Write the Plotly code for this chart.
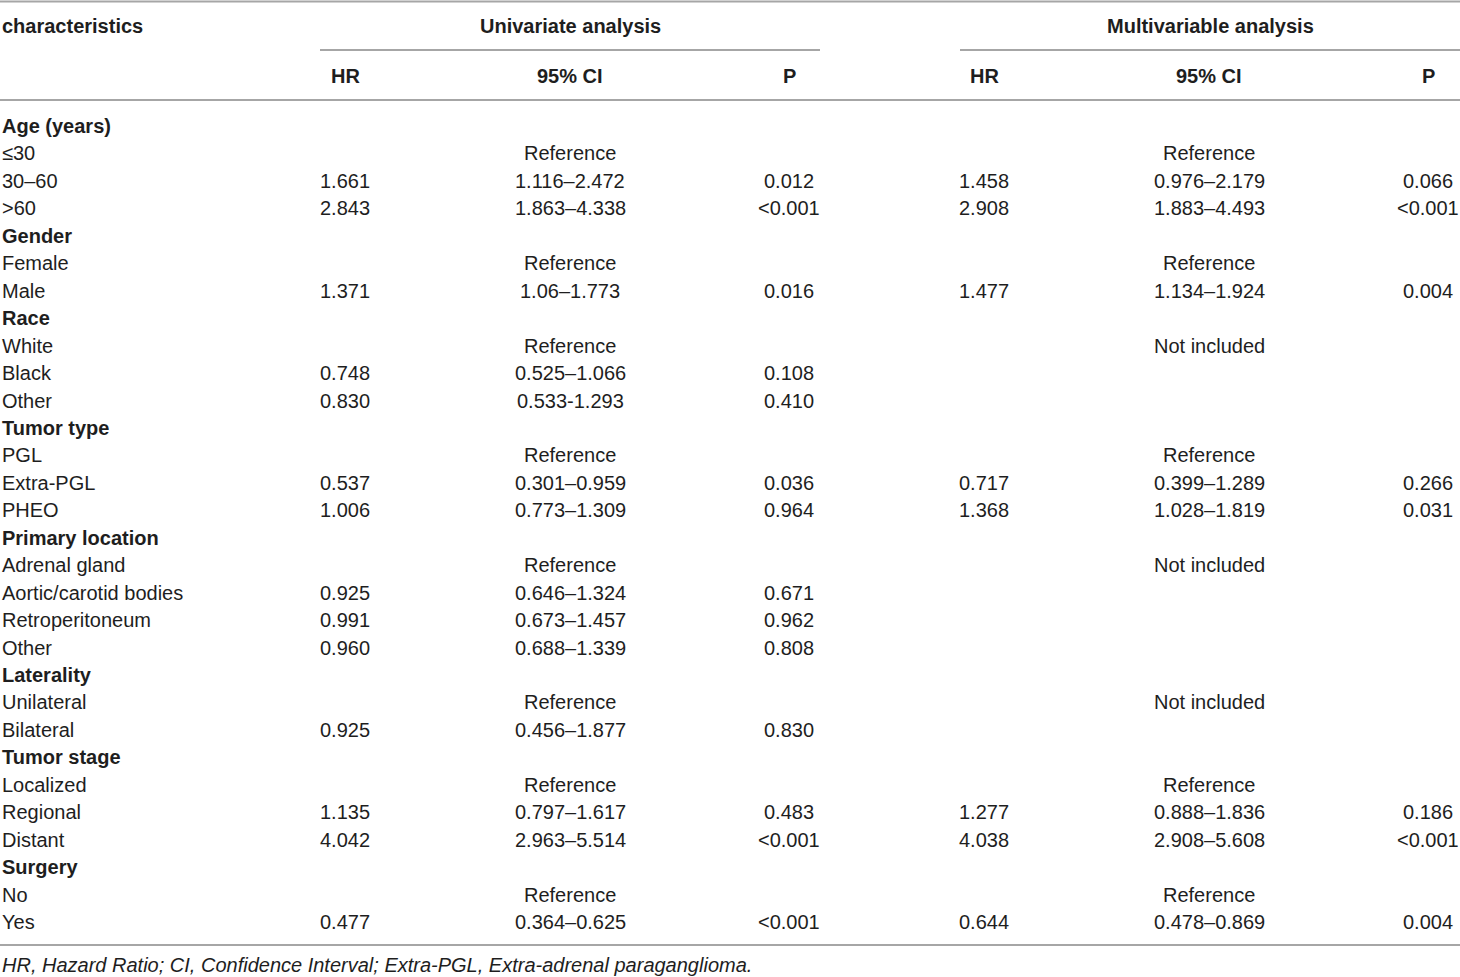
import plotly.graph_objects as go

# table content
labels = [
    "Age (years)", "≤30", "30–60", ">60",
    "Gender", "Female", "Male",
    "Race", "White", "Black", "Other",
    "Tumor type", "PGL", "Extra-PGL", "PHEO",
    "Primary location", "Adrenal gland", "Aortic/carotid bodies", "Retroperitoneum", "Other",
    "Laterality", "Unilateral", "Bilateral",
    "Tumor stage", "Localized", "Regional", "Distant",
    "Surgery", "No", "Yes",
]
group_rows = {"Age (years)", "Gender", "Race", "Tumor type", "Primary location",
              "Laterality", "Tumor stage", "Surgery"}

uni_hr = ["", "", "1.661", "2.843", "", "", "1.371", "", "", "0.748", "0.830",
          "", "", "0.537", "1.006", "", "", "0.925", "0.991", "0.960",
          "", "", "0.925", "", "", "1.135", "4.042", "", "", "0.477"]
uni_ci = ["", "Reference", "1.116–2.472", "1.863–4.338", "", "Reference", "1.06–1.773",
          "", "Reference", "0.525–1.066", "0.533-1.293",
          "", "Reference", "0.301–0.959", "0.773–1.309",
          "", "Reference", "0.646–1.324", "0.673–1.457", "0.688–1.339",
          "", "Reference", "0.456–1.877",
          "", "Reference", "0.797–1.617", "2.963–5.514",
          "", "Reference", "0.364–0.625"]
uni_p = ["", "", "0.012", "<0.001", "", "", "0.016", "", "", "0.108", "0.410",
         "", "", "0.036", "0.964", "", "", "0.671", "0.962", "0.808",
         "", "", "0.830", "", "", "0.483", "<0.001", "", "", "<0.001"]

multi_hr = ["", "", "1.458", "2.908", "", "", "1.477", "", "", "", "",
            "", "", "0.717", "1.368", "", "", "", "", "",
            "", "", "", "", "", "1.277", "4.038", "", "", "0.644"]
multi_ci = ["", "Reference", "0.976–2.179", "1.883–4.493", "", "Reference", "1.134–1.924",
            "", "Not included", "", "",
            "", "Reference", "0.399–1.289", "1.028–1.819",
            "", "Not included", "", "", "",
            "", "Not included", "",
            "", "Reference", "0.888–1.836", "2.908–5.608",
            "", "Reference", "0.478–0.869"]
multi_p = ["", "", "0.066", "<0.001", "", "", "0.004", "", "", "", "",
           "", "", "0.266", "0.031", "", "", "", "", "",
           "", "", "", "", "", "0.186", "<0.001", "", "", "0.004"]

header_groups = ["Univariate analysis", "Multivariable analysis"]
sub_headers = ["HR", "95% CI", "P"]
footnote = "HR, Hazard Ratio; CI, Confidence Interval; Extra-PGL, Extra-adrenal paraganglioma."

W, H = 1460, 977
FONT = "Liberation Sans, Arial, sans-serif"
TEXT_COLOR = "#1e1e1e"
LINE_COLOR = "#a6a6a6"
ROW0, PITCH = 126, 27.45
COL_X = [345, 570, 789, 984, 1209, 1428]
GROUP_X = [570, 1210]
SPAN = [(320, 820), (960, 1460)]

fig = go.Figure()
annotations = []


def add_text(x, y, text, anchor="center", bold=False, size=20, italic=False):
    if bold:
        text = f"<b>{text}</b>"
    if italic:
        text = f"<i>{text}</i>"
    annotations.append(dict(
        x=x, y=y, xref="x", yref="y", text=text, showarrow=False,
        xanchor=anchor, yanchor="middle",
        font=dict(family=FONT, size=size, color=TEXT_COLOR),
    ))


# header
add_text(0, 26, "characteristics", anchor="left", bold=True)
for gx, g in zip(GROUP_X, header_groups):
    add_text(gx, 26, g, bold=True)
for i, x in enumerate(COL_X):
    add_text(x, 76, sub_headers[i % 3], bold=True)

# body
columns = [uni_hr, uni_ci, uni_p, multi_hr, multi_ci, multi_p]
for r, lab in enumerate(labels):
    y = ROW0 + r * PITCH
    add_text(0, y, lab, anchor="left", bold=lab in group_rows)
    for x, col in zip(COL_X, columns):
        if col[r]:
            add_text(x, y, col[r])

add_text(0, 965, footnote, anchor="left", size=20, italic=True)

# rules
shapes = [
    dict(type="line", x0=0, x1=W, y0=1.5, y1=1.5, line=dict(color=LINE_COLOR, width=2)),
    dict(type="line", x0=0, x1=W, y0=100, y1=100, line=dict(color=LINE_COLOR, width=2)),
    dict(type="line", x0=0, x1=W, y0=945, y1=945, line=dict(color=LINE_COLOR, width=2)),
]
for x0, x1 in SPAN:
    shapes.append(dict(type="line", x0=x0, x1=x1, y0=50, y1=50,
                       line=dict(color=LINE_COLOR, width=2)))
for s in shapes:
    s.update(xref="x", yref="y")

fig.update_layout(
    width=W, height=H,
    margin=dict(l=0, r=0, t=0, b=0),
    paper_bgcolor="white", plot_bgcolor="white",
    xaxis=dict(range=[0, W], visible=False, fixedrange=True),
    yaxis=dict(range=[H, 0], visible=False, fixedrange=True),
    annotations=annotations,
    shapes=shapes,
    showlegend=False,
)

# drop the page's default body margin so the table sits at the window origin
fig.write_html(
    "out.html",
    config={"displayModeBar": False},
    post_script="document.body.style.margin='0';document.body.style.overflow='hidden';",
)
